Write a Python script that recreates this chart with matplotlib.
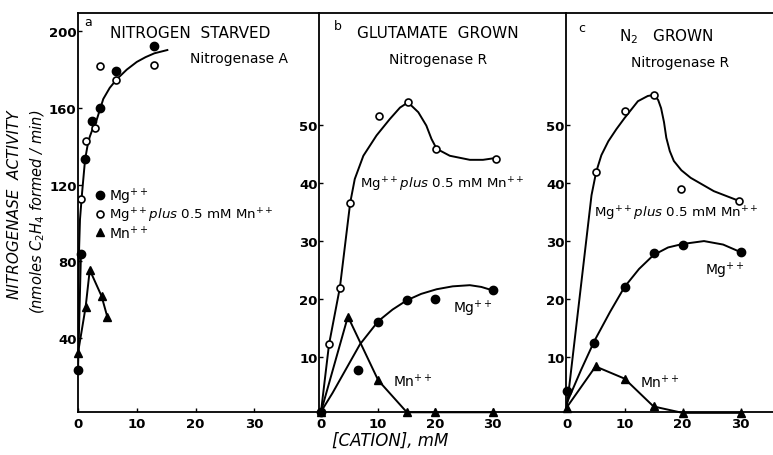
import matplotlib.pyplot as plt

W, H = 773, 456

# panel a: nitrogen starved, nitrogenase A
a_mg_x = [0, 0.5, 1.2, 2.4, 3.7, 6.5, 13]
a_mg_y = [23.4, 83.9, 133.4, 153.2, 160, 179.3, 192.3]
a_mgmn_x = [0.5, 1.4, 2.9, 3.7, 6.5, 13]
a_mgmn_y = [112.6, 142.8, 149.6, 181.9, 174.6, 182.4]
a_mn_x = [0, 1.3, 2, 4, 5]
a_mn_y = [32.3, 56.3, 75.6, 62, 51]
a_fit_x = [0, 0.1, 0.17, 0.34, 0.7, 1.2, 1.6, 2.0, 2.6, 3.2, 4.3, 5.4, 6.6, 8.3, 10, 11.5, 13, 15.2]
a_fit_y = [28, 70, 85, 102, 116, 133, 140, 145, 150, 154, 164.7, 170.5, 175, 180, 184, 186.5, 188.5, 190.2]

# panel b: glutamate grown, nitrogenase R
b_mgmn_x = [1.4, 3.3, 5.1, 10.1, 15.2, 20.1, 30.5]
b_mgmn_y = [12.2, 22, 36.6, 51.6, 54, 45.9, 44.1]
b_mgmn_fit_x = [0, 1.4, 3.3, 5.1, 5.9, 7.4, 9.7, 12.0, 13.8, 15.2, 17.0, 18.4, 19.3, 20.2,
                22.5, 26, 28.3, 30.4]
b_mgmn_fit_y = [0.6, 12.2, 22, 36.6, 40.7, 44.7, 48.2, 51.0, 53.0, 53.9, 52.2, 49.9, 47.6, 45.9,
                44.7, 44.0, 44.0, 44.3]
b_mg_x = [0, 6.5, 10, 15, 20, 30]
b_mg_y = [0.6, 7.7, 16, 19.8, 20, 21.5]
b_mg_fit_x = [0, 2, 4, 6.8, 10, 12.5, 15, 17.5, 20.2, 23, 26, 28, 30]
b_mg_fit_y = [0.6, 3.8, 7.3, 12.2, 16.2, 18.2, 19.8, 20.9, 21.7, 22.2, 22.4, 22.1, 21.5]
b_mn_x = [0, 4.7, 10, 15, 20, 30]
b_mn_y = [0.6, 17, 6, 0.5, 0.5, 0.5]

# panel c: N2 grown, nitrogenase R
c_mgmn_x = [5.1, 10, 15.1, 19.7, 29.8]
c_mgmn_y = [41.9, 52.4, 55.2, 39, 36.9]
c_mgmn_fit_x = [0, 4.3, 5.1, 6, 7.2, 8.6, 10, 12.3, 14, 15.1, 15.8, 16.3, 16.8, 17.2, 17.8,
                18.5, 19.8, 21.4, 25.4, 29.8]
c_mgmn_fit_y = [1, 37.9, 41.9, 44.8, 47.2, 49.3, 51.2, 54.1, 55, 55.2, 54.3, 52.9, 50.5, 47.8,
                45.5, 43.8, 42.2, 40.9, 38.6, 36.9]
c_mg_x = [0, 4.8, 10, 15, 20, 30]
c_mg_y = [4.1, 12.5, 22.1, 27.9, 29.4, 28.1]
c_mg_fit_x = [0, 2.5, 4.8, 7.5, 10, 12.5, 15, 17.5, 20, 23.7, 27, 30]
c_mg_fit_y = [2, 7.8, 12.8, 17.8, 22.1, 25.2, 27.6, 28.9, 29.5, 30, 29.4, 28.1]
c_mn_x = [0, 5, 10, 15, 20, 30]
c_mn_y = [1.3, 8.4, 6.3, 1.5, 0.4, 0.4]

MG = "Mg$^{++}$"
MN = "Mn$^{++}$"
MGMN = "Mg$^{++}$$\\it{plus}$ 0.5 mM Mn$^{++}$"

plt.rcParams['font.family'] = ['DejaVu Sans']
fig = plt.figure(figsize=(W / 100, H / 100), dpi=100)


def px_axes(x0, x1, y0=14, y1=412.7):
    return fig.add_axes([x0 / W, (H - y1) / H, (x1 - x0) / W, (y1 - y0) / H])


axa = px_axes(78, 319)
axb = px_axes(319, 566)
axc = px_axes(566, 773)

axa.set_xlim(0, 41)
axa.set_ylim(1.7, 209.5)
axb.set_xlim(-0.35, 42.8)
axb.set_ylim(0.6, 69.3)
axc.set_xlim(-0.1, 35.6)
axc.set_ylim(0.6, 69.3)

lw = 1.4
ms_f = 6
ms_o = 5

axa.set_yticks([40, 80, 120, 160, 200])
axb.set_yticks([10, 20, 30, 40, 50])
axc.set_yticks([10, 20, 30, 40, 50])
for ax in (axa, axb, axc):
    ax.spines['right'].set_visible(False)
    for s in ('left', 'top', 'bottom'):
        ax.spines[s].set_linewidth(1.3)
    ax.set_xticks([0, 10, 20, 30])
    ax.tick_params(direction='in', length=3, width=1, labelsize=9.5, pad=4)
    ax.tick_params(axis='y', pad=1)
    for lab in ax.get_xticklabels() + ax.get_yticklabels():
        lab.set_fontweight('bold')

k = 'black'
# panel a
axa.plot(a_fit_x, a_fit_y, color=k, lw=lw)
axa.plot(a_mg_x[:2], a_mg_y[:2], color=k, lw=lw)
axa.plot(a_mn_x, a_mn_y, color=k, lw=lw, marker='^', ms=ms_f, clip_on=False)
axa.plot(a_mg_x, a_mg_y, ls='none', marker='o', ms=ms_f, color=k, clip_on=False)
axa.plot(a_mgmn_x, a_mgmn_y, ls='none', marker='o', ms=ms_o, mfc='white', mec=k, mew=1.2)

# panel b
axb.plot(b_mgmn_fit_x, b_mgmn_fit_y, color=k, lw=lw)
axb.plot(b_mg_fit_x, b_mg_fit_y, color=k, lw=lw)
axb.plot(b_mn_x, b_mn_y, color=k, lw=lw, marker='^', ms=ms_f, clip_on=False)
axb.plot(b_mg_x, b_mg_y, ls='none', marker='o', ms=ms_f, color=k, clip_on=False)
axb.plot(b_mgmn_x, b_mgmn_y, ls='none', marker='o', ms=ms_o, mfc='white', mec=k, mew=1.2)

# panel c
axc.plot(c_mgmn_fit_x, c_mgmn_fit_y, color=k, lw=lw)
axc.plot(c_mg_fit_x, c_mg_fit_y, color=k, lw=lw)
axc.plot(c_mn_x, c_mn_y, color=k, lw=lw, marker='^', ms=ms_f, clip_on=False)
axc.plot(c_mg_x, c_mg_y, ls='none', marker='o', ms=ms_f, color=k, clip_on=False)
axc.plot(c_mgmn_x, c_mgmn_y, ls='none', marker='o', ms=ms_o, mfc='white', mec=k, mew=1.2)


def ftext(x, y, s, **kw):
    fig.text(x / W, 1 - y / H, s, **kw)


fs = 10
fs2 = 9.6
# panel a texts
ftext(84, 22, "a", fontsize=9, va='center')
ftext(190, 33, "NITROGEN  STARVED", fontsize=11, ha='center', va='center')
ftext(239, 59, "Nitrogenase A", fontsize=fs, ha='center', va='center')
# legend
axa.plot([3.8], [114.5], ls='none', marker='o', ms=ms_f, color=k)
axa.plot([3.8], [104.5], ls='none', marker='o', ms=ms_o, mfc='white', mec=k, mew=1.2)
axa.plot([3.8], [95.5], ls='none', marker='^', ms=ms_f, color=k)
ftext(109, 197, MG, fontsize=fs, va='center')
ftext(109, 216, MGMN, fontsize=fs2, va='center')
ftext(109, 234, MN, fontsize=fs, va='center')

# panel b texts
ftext(334, 26, "b", fontsize=9, va='center')
ftext(438, 34, "GLUTAMATE  GROWN", fontsize=11, ha='center', va='center')
ftext(438, 60, "Nitrogenase R", fontsize=fs, ha='center', va='center')
ftext(360, 185, MGMN, fontsize=fs2, va='center')
ftext(453, 309, MG, fontsize=fs, va='center')
ftext(393, 382, MN, fontsize=fs, va='center')

# panel c texts
ftext(578, 28, "c", fontsize=9, va='center')
ftext(666, 37, "N$_2$   GROWN", fontsize=11, ha='center', va='center')
ftext(680, 63, "Nitrogenase R", fontsize=fs, ha='center', va='center')
ftext(594, 214, MGMN, fontsize=fs2, va='center')
ftext(705, 271, MG, fontsize=fs, va='center')
ftext(640, 383, MN, fontsize=fs, va='center')

# axis labels
ftext(15, 205, "NITROGENASE  ACTIVITY", fontsize=11, style='italic', rotation=90,
      ha='center', va='center')
ftext(38, 212, "(nmoles C$_2$H$_4$ formed / min)", fontsize=10.5, style='italic',
      rotation=90, ha='center', va='center')
ftext(390, 441, "[CATION], mM", fontsize=12, style='italic', ha='center', va='center')

fig.savefig("out.png", dpi=100)
